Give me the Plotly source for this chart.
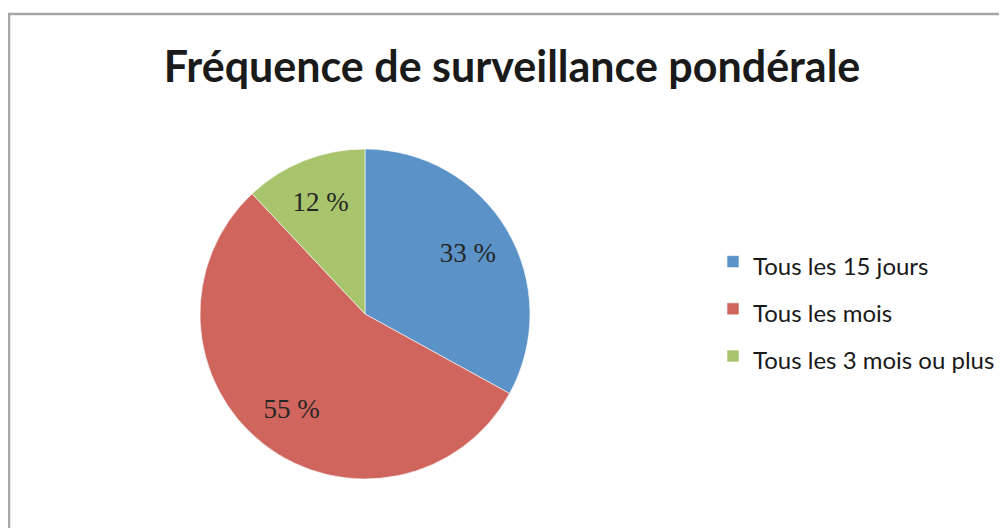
import plotly.graph_objects as go

categories = ["Tous les 15 jours", "Tous les mois", "Tous les 3 mois ou plus"]
values = [33, 55, 12]
colors = ["#5B93C8", "#D0655E", "#A8C46C"]

W, H = 1007, 528
OFF = 8  # the page body adds an 8px margin around the figure

# legend entries: the span keeps text at 24px while the legend font size sets row spacing
legend_labels = [f'<span style="font-size:24px">{c}</span>' for c in categories]

pie_domain = {
    "x": [(200 - OFF) / W, (530 - OFF) / W],
    "y": [(H - 479 + OFF) / H, (H - 149 + OFF) / H],
}

fig = go.Figure()

# coloured slices
fig.add_trace(
    go.Pie(
        labels=legend_labels,
        values=values,
        sort=False,
        direction="clockwise",
        rotation=0,
        marker={"colors": colors, "line": {"color": "#ffffff", "width": 0.6}},
        textinfo="none",
        hovertemplate="%{label}: %{value} %<extra></extra>",
        domain=pie_domain,
    )
)

# transparent ring on top, only to place the percentage labels further out
fig.add_trace(
    go.Pie(
        labels=legend_labels,
        values=values,
        sort=False,
        direction="clockwise",
        rotation=0,
        hole=0.45,
        marker={"colors": ["rgba(0,0,0,0)"] * len(values), "line": {"width": 0}},
        texttemplate="%{value} %",
        textposition="inside",
        insidetextorientation="horizontal",
        textfont={"family": "Liberation Serif, DejaVu Serif, serif", "size": 27, "color": "#262626"},
        hoverinfo="skip",
        showlegend=False,
        domain=pie_domain,
    )
)

fig.update_layout(
    width=W,
    height=H,
    margin={"l": 0, "r": 0, "t": 0, "b": 0},
    paper_bgcolor="#ffffff",
    plot_bgcolor="#ffffff",
    title={
        "text": "<b>Fréquence de surveillance pondérale</b>",
        "x": (512 - OFF) / W,
        "xanchor": "center",
        "y": (H - 67 + OFF) / H,
        "yanchor": "middle",
        "font": {"family": "Lato, Open Sans, sans-serif", "size": 43, "color": "#1a1a1a"},
    },
    legend={
        "x": 705 / W,
        "xanchor": "left",
        "y": (H - 225) / H,
        "yanchor": "top",
        "font": {"family": "Lato, Open Sans, sans-serif", "size": 34, "color": "#1a1a1a"},
        "bgcolor": "rgba(0,0,0,0)",
    },
    shapes=[
        {
            "type": "rect",
            "xref": "paper",
            "yref": "paper",
            "x0": 1 / W,
            "x1": 1.05,
            "y0": -0.05,
            "y1": (H - 6) / H,
            "line": {"color": "#a6a6a6", "width": 2.5},
            "fillcolor": "rgba(0,0,0,0)",
        }
    ],
)

fig.write_html("out.html")
